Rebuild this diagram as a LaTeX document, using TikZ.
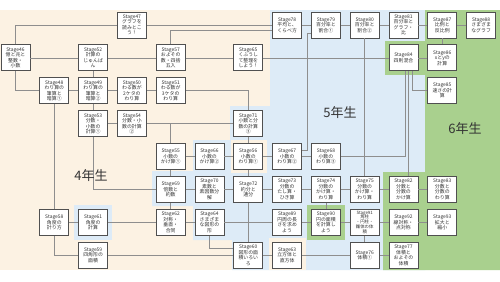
\documentclass[tikz,border=0pt]{standalone}
\usepackage{fontspec}
\setmainfont{Noto Sans CJK JP}
\definecolor{beigebg}{HTML}{FCF2E3}
\definecolor{bluebg}{HTML}{DDEBF7}
\definecolor{greenbg}{HTML}{A9D08E}
\definecolor{boxc}{HTML}{505050}
\definecolor{txtc}{HTML}{333333}
\definecolor{linec}{HTML}{8E8E8E}
\begin{document}
\begin{tikzpicture}[x=1pt,y=-1pt,
  box/.style={draw=boxc, line width=0.9pt, fill=white, minimum width=29pt, minimum height=26pt, inner sep=0pt, align=center, text=txtc, font=\fontsize{4.9}{5.5}\selectfont},
  smalltext/.style={font=\fontsize{4.4}{4.9}\selectfont},
  conn/.style={draw=linec, line width=0.8pt},
  grade/.style={font=\fontsize{13}{13}\selectfont, text=txtc, inner sep=0pt}]

\useasboundingbox (0,0) rectangle (500,281);
\fill[white] (0,0) rectangle (500,281);
% regions
\fill[beigebg] (0,10) rectangle (500,270);
\fill[bluebg] (270,10) -- (425,10) -- (425,270) -- (232,270) -- (232,240) -- (193,240) -- (193,206) -- (152,206) -- (152,171) -- (193,171) -- (193,140) -- (230,140) -- (230,106) -- (270,106) -- cycle;
\fill[greenbg] (425,10) -- (500,10) -- (500,270) -- (383,270) -- (383,172) -- (425,172) -- cycle;
\fill[greenbg] (385,41) rectangle (425,75);
\fill[bluebg] (74,205) rectangle (112,239.5);
\fill[beigebg] (230.5,139.5) rectangle (267,173);
\fill[beigebg] (269,238) rectangle (305.5,270);
\fill[greenbg] (307,205) rectangle (345,240);

% row 0
\node[box] (s47) at (131.9,25) {Stage47\\グラフを\\読みとこ\\う！};
\node[box] (s78) at (287.1,25) {Stage78\\平均と、\\くらべ方};
\node[box] (s79) at (325.9,25) {Stage79\\百分率と\\割合①};
\node[box] (s80) at (364.7,25) {Stage80\\百分率と\\割合②};
\node[box] (s81) at (403.5,25) {Stage81\\百分率と\\グラフ・\\比};
\node[box] (s87) at (442.3,25) {Stage87\\比例と\\反比例};
\node[box] (s88) at (481.1,25) {Stage88\\さまざま\\なグラフ};
% row 1
\node[box] (s46) at (15.5,57.9) {Stage46\\億と兆と\\整数・\\小数};
\node[box] (s52) at (93.1,57.9) {Stage52\\計算の\\じゅんば\\ん};
\node[box] (s57) at (170.7,57.9) {Stage57\\およその\\数・四捨\\五入};
\node[box] (s65) at (248.3,57.9) {Stage65\\くふうし\\て整理を\\しよう！};
\node[box] (s84) at (403.5,57.9) {Stage84\\四則混合};
\node[box] (s86) at (442.3,57.9) {Stage86\\xとyの\\計算};
% row 2
\node[box] (s48) at (54.3,90.8) {Stage48\\わり算の\\筆算と\\暗算①};
\node[box] (s49) at (93.1,90.8) {Stage49\\わり算の\\筆算と\\暗算②};
\node[box] (s50) at (131.9,90.8) {Stage50\\わる数が\\2ケタの\\わり算};
\node[box] (s51) at (170.7,90.8) {Stage51\\わる数が\\3ケタの\\わり算};
\node[box] (s85) at (442.3,90.8) {Stage85\\速さの計\\算};
% row 3
\node[box] (s53) at (93.1,123.7) {Stage53\\分数・\\小数の\\計算①};
\node[box] (s54) at (131.9,123.7) {Stage54\\分数・小\\数の計算\\②};
\node[box] (s71) at (248.3,123.7) {Stage71\\小数と分\\数の計算\\③};
% row 4
\node[box] (s55) at (170.7,156.6) {Stage55\\小数の\\かけ算①};
\node[box] (s66) at (209.5,156.6) {Stage66\\小数の\\かけ算②};
\node[box] (s56) at (248.3,156.6) {Stage56\\小数の\\わり算①};
\node[box] (s67) at (287.1,156.6) {Stage67\\小数の\\わり算②};
\node[box] (s68) at (325.9,156.6) {Stage68\\小数の\\わり算③};
% row 5
\node[box] (s69) at (170.7,189.5) {Stage69\\倍数と\\約数};
\node[box] (s70) at (209.5,189.5) {Stage70\\素数と\\素因数分\\解};
\node[box] (s72) at (248.3,189.5) {Stage72\\約分と\\通分};
\node[box] (s73) at (287.1,189.5) {Stage73\\分数の\\たし算・\\ひき算};
\node[box] (s74) at (325.9,189.5) {Stage74\\分数の\\かけ算・\\わり算};
\node[box] (s75) at (364.7,189.5) {Stage75\\分数の\\かけ算・\\わり算};
\node[box] (s82) at (403.5,189.5) {Stage82\\分数と\\分数の\\かけ算};
\node[box] (s83) at (442.3,189.5) {Stage83\\分数と\\分数の\\わり算};
% row 6
\node[box] (s58) at (54.3,222.4) {Stage58\\角度の\\計り方};
\node[box] (s61) at (93.1,222.4) {Stage61\\角度の\\計算};
\node[box] (s62) at (170.7,222.4) {Stage62\\対称・\\垂直・\\合同};
\node[box] (s64) at (209.5,222.4) {Stage64\\さまざま\\な図形の\\形};
\node[box] (s89) at (287.1,222.4) {Stage89\\円周の長\\さを求め\\よう};
\node[box] (s90) at (325.9,222.4) {Stage90\\円の面積\\を計算し\\よう};
\node[box,smalltext] (s91) at (364.7,222.4) {Stage91\\角柱\\・円柱・\\錐体の体\\積};
\node[box] (s92) at (403.5,222.4) {Stage92\\線対称・\\点対称};
\node[box] (s93) at (442.3,222.4) {Stage93\\拡大と\\縮小};
% row 7
\node[box] (s59) at (93.1,255.3) {Stage59\\四角形の\\面積};
\node[box] (s60) at (248.3,255.3) {Stage60\\図形の面\\積いろい\\ろ};
\node[box] (s63) at (287.1,255.3) {Stage63\\立方体と\\直方体};
\node[box] (s76) at (364.7,255.3) {Stage76\\体積①};
\node[box] (s77) at (403.5,255.3) {Stage77\\体積と\\およその\\体積};

\coordinate (k1) at (307,150);

% connectors
\draw[conn] (s46.north) |- (s47.west);
\draw[conn] (s47.east) -- (s78.west);
\draw[conn] (s57.north) |- ([yshift=-5pt]s78.west);
\draw[conn] (s78.east) -- (s79.west);
\draw[conn] (s79.east) -- (s80.west);
\draw[conn] (s80.east) -- (s81.west);
\draw[conn] (s81.east) -- (s87.west);
\draw[conn] (s87.east) -- (s88.west);
\draw[conn] (s87.south) -- (s86.north);
\draw[conn] (s46.east) -- (s52.west);
\draw[conn] (s52.east) -- (s57.west);
\draw[conn] (s57.east) -- (s65.west);
\draw[conn] (s65.east) -- (s84.west);
\draw[conn] (s84.east) -- (s86.west);
\draw[conn] (s46.south) |- (s48.west);
\draw[conn] (s48.east) -- (s49.west);
\draw[conn] (s52.south) -- (s49.north);
\draw[conn] (s49.east) -- (s50.west);
\draw[conn] (s50.east) -- (s51.west);
\draw[conn] (s51.east) -| (s71.north);
\draw[conn] (s49.south) -- (s53.north);
\draw[conn] (s53.east) -- (s54.west);
\draw[conn] (s54.east) -- (s71.west);
\draw[conn] (s54.east) -| (s55.north);
\draw[conn] (s48.south) -- (s58.north);
\draw[conn] (s53.south) |- (s69.west);
\draw[conn] (s71.south) -- (s56.north);
\draw[conn] (s55.east) -- (s66.west);
\draw[conn] (s66.east) -- (s56.west);
\draw[conn] (s56.east) -- (s67.west);
\draw[conn] (s67.east) -- (s68.west);
\draw[conn] ([yshift=-8pt]s79.west) -| (k1) -- ([yshift=6.6pt]s67.east);
\draw[conn] (s80.south) -- (s75.north);
\draw[conn] ([xshift=2pt]s84.south) |- (s68.east);
\draw[conn] ([xshift=5pt]s84.south) -- ([xshift=5pt]s82.north);
\draw[conn] ([xshift=9pt]s84.south) |- (s85.west);
\draw[conn] (s55.south) -- (s69.north);
\draw[conn] (s56.south) -- (s72.north);
\draw[conn] (s69.east) -- (s70.west);
\draw[conn] (s70.east) -- (s72.west);
\draw[conn] (s72.east) -- (s73.west);
\draw[conn] (s73.east) -- (s74.west);
\draw[conn] (s74.east) -- (s75.west);
\draw[conn] (s75.east) -- (s82.west);
\draw[conn] (s82.east) -- (s83.west);
\draw[conn] (s69.south) -- (s62.north);
\draw[conn] (s58.east) -- (s61.west);
\draw[conn] (s61.east) -- (s62.west);
\draw[conn] (s62.east) -- (s64.west);
\draw[conn] (s64.east) -- (s89.west);
\draw[conn] (s89.east) -- (s90.west);
\draw[conn] (s90.east) -- (s91.west);
\draw[conn] (s91.east) -- (s92.west);
\draw[conn] (s92.east) -- (s93.west);
\draw[conn] (s72.south) -- (s60.north);
\draw[conn] (s74.south) -- (s90.north);
\draw[conn] (s91.south) -- (s76.north);
\draw[conn] (s64.south) |- ([yshift=7pt]s60.west);
\draw[conn] (s58.south) |- (s59.west);
\draw[conn] (s59.east) -- (s60.west);
\draw[conn] (s60.east) -- (s63.west);
\draw[conn] (s63.east) -- (s76.west);
\draw[conn] (s76.east) -- (s77.west);

% grade labels
\node[grade] (g4) at (91,176) {4年生};
\node[grade] (g5) at (340,113) {5年生};
\node[grade] (g6) at (465,129) {6年生};
\end{tikzpicture}
\end{document}
